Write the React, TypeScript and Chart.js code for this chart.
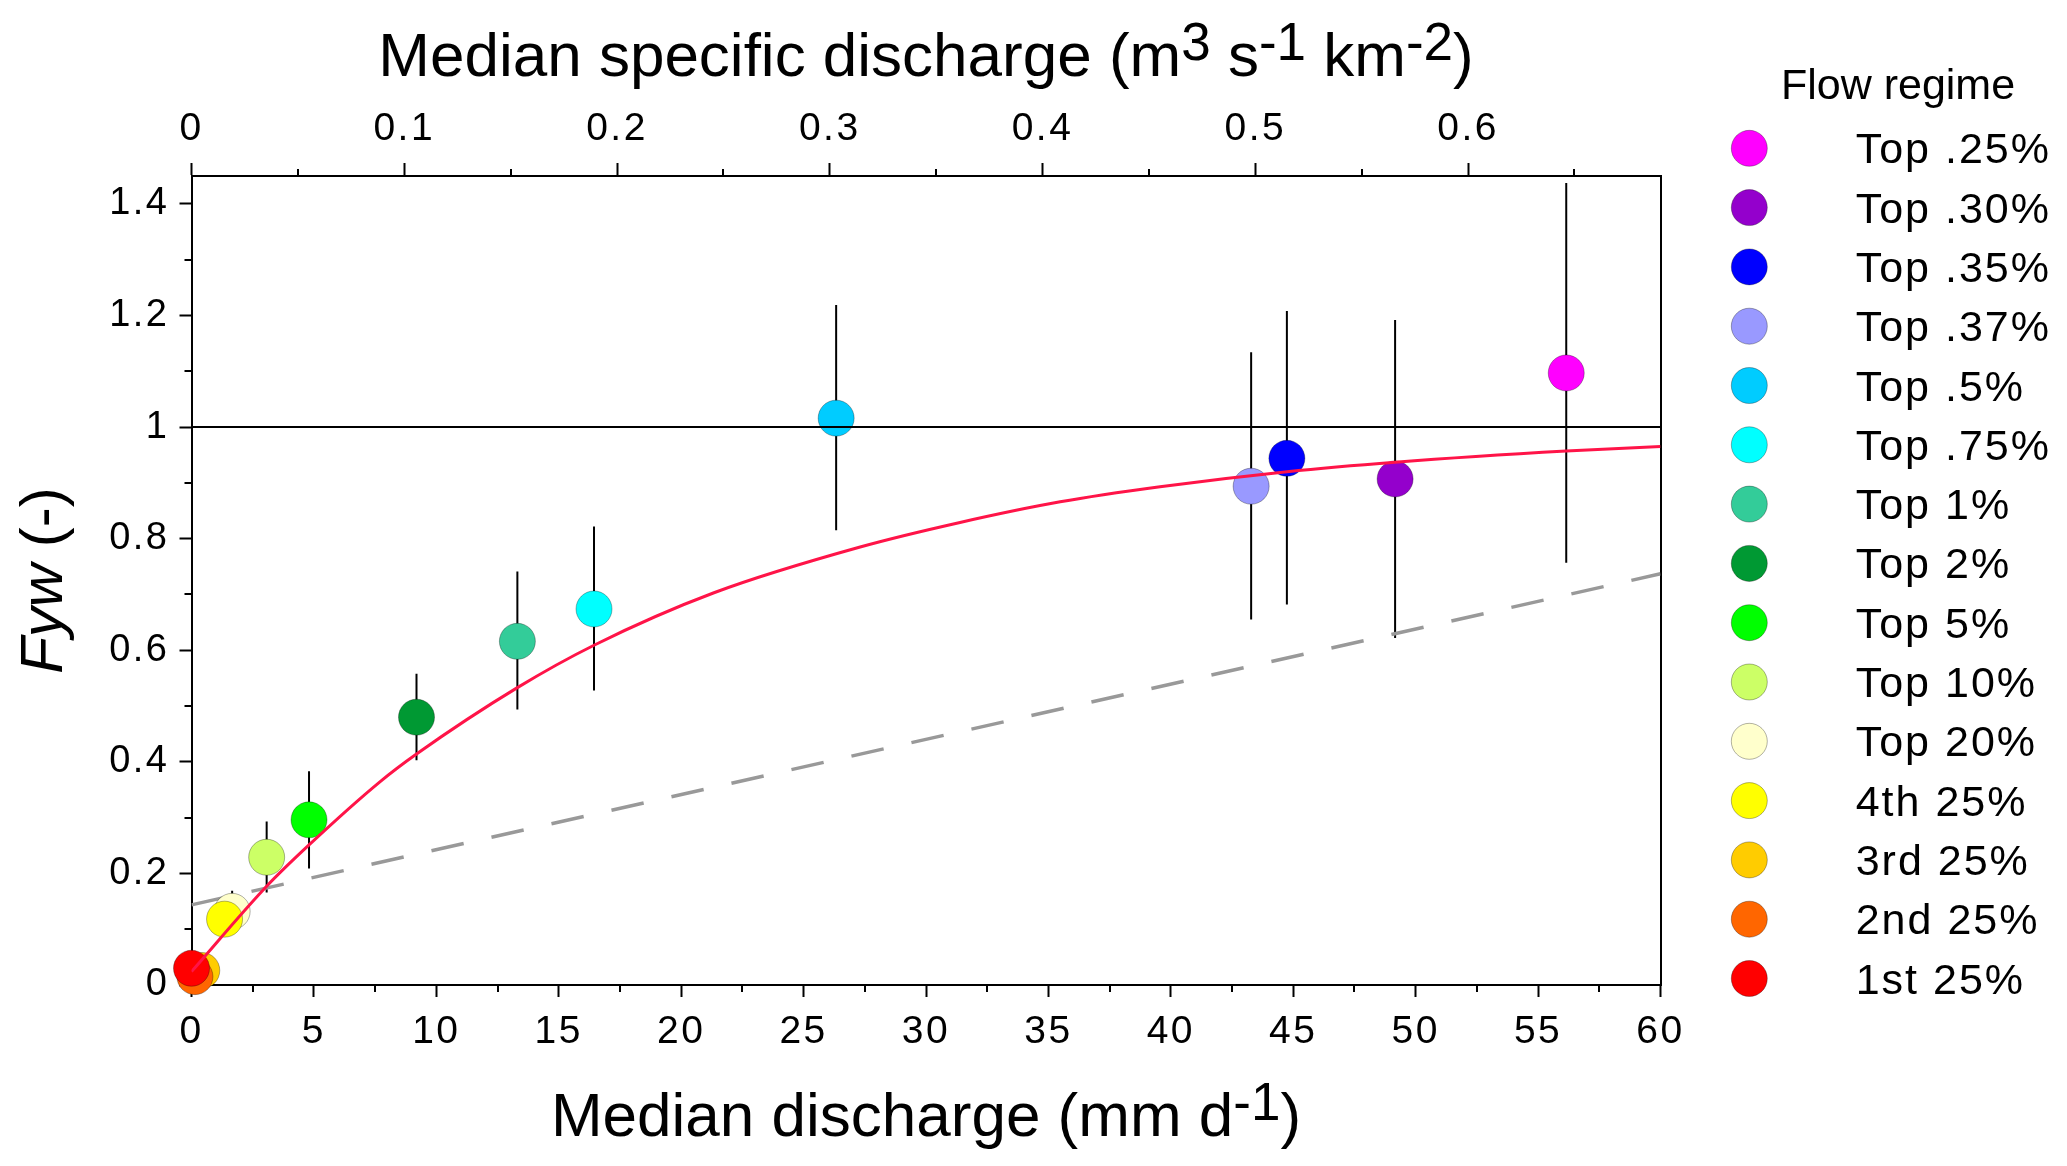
import React, { useEffect, useRef } from "react";
import { Chart, registerables } from "chart.js";

Chart.register(...registerables);

// ---------------- data ----------------
const regimes = [
  "Top .25%", "Top .30%", "Top .35%", "Top .37%", "Top .5%", "Top .75%", "Top 1%",
  "Top 2%", "Top 5%", "Top 10%", "Top 20%", "4th 25%", "3rd 25%", "2nd 25%", "1st 25%",
];
const regimeColors = [
  "#FF00FF", "#9400CC", "#0000FF", "#9999FF", "#00CCFF", "#00FFFF", "#33CC99",
  "#009933", "#00FF00", "#CCFF66", "#FFFFCC", "#FFFF00", "#FFCC00", "#FF6600", "#FF0000",
];
const medianDischarge = [56.15, 49.16, 44.74, 43.28, 26.33, 16.44, 13.31, 9.19, 4.8, 3.07, 1.66, 1.35, 0.42, 0.14, 0.0];
const fywValues = [1.097, 0.907, 0.944, 0.894, 1.016, 0.674, 0.616, 0.48, 0.296, 0.229, 0.132, 0.118, 0.026, 0.015, 0.03];
const fywLower = [0.757, 0.622, 0.682, 0.655, 0.815, 0.528, 0.494, 0.403, 0.209, 0.166, 0.1, null, null, null, null];
const fywUpper = [1.4375, 1.192, 1.208, 1.134, 1.219, 0.822, 0.741, 0.558, 0.383, 0.293, 0.169, null, null, null, null];

const fitX = [0, 3.07, 4.8, 7.72, 9.19, 13.31, 16.44, 21.34, 27.31, 31.39, 35.48, 39.56, 44.74, 49.16, 56.15, 60];
const fitY = [0.024, 0.177, 0.251, 0.365, 0.414, 0.533, 0.609, 0.703, 0.785, 0.829, 0.866, 0.893, 0.92, 0.937, 0.957, 0.965];

const linearX = [0, 60];
const linearY = [0.1436, 0.737];

const unityX = [0, 60];
const unityY = [1, 1];

const xTicks = [0, 5, 10, 15, 20, 25, 30, 35, 40, 45, 50, 55, 60];
const xTickLabels = ["0", "5", "10", "15", "20", "25", "30", "35", "40", "45", "50", "55", "60"];
const xMinorTicks = [2.5, 7.5, 12.5, 17.5, 22.5, 27.5, 32.5, 37.5, 42.5, 47.5, 52.5, 57.5];
const x2Ticks = [0, 0.1, 0.2, 0.3, 0.4, 0.5, 0.6];
const x2TickLabels = ["0", "0.1", "0.2", "0.3", "0.4", "0.5", "0.6"];
const x2MinorTicks = [0.05, 0.15, 0.25, 0.35, 0.45, 0.55, 0.65];
const yTicks = [0, 0.2, 0.4, 0.6, 0.8, 1, 1.2, 1.4];
const yTickLabels = ["0", "0.2", "0.4", "0.6", "0.8", "1", "1.2", "1.4"];
const yMinorTicks = [0.1, 0.3, 0.5, 0.7, 0.9, 1.1, 1.3];

const mmPerSpecific = 86.9; // mm d-1 per m3 s-1 km-2
const xMax = 60;
const yMax = 1.45;

const topTitleRuns = [
  { t: "Median specific discharge (m", sup: false },
  { t: "3", sup: true },
  { t: " s", sup: false },
  { t: "-1", sup: true },
  { t: " km", sup: false },
  { t: "-2", sup: true },
  { t: ")", sup: false },
];
const bottomTitleRuns = [
  { t: "Median discharge (mm d", sup: false },
  { t: "-1", sup: true },
  { t: ")", sup: false },
];
const yTitleRuns = [
  { t: "Fyw", italic: true },
  { t: " (-)", italic: false },
];
const legendTitle = "Flow regime";

// ---------------- styling ----------------
const FAMILY = "'Liberation Sans', Arial, Helvetica, sans-serif";
const W = 2067;
const H = 1166;

function drawRuns(ctx: CanvasRenderingContext2D, runs: any[], cx: number, baseline: number, size: number, supSize: number, rise: number) {
  const widths = runs.map((r) => {
    ctx.font = `${r.sup ? supSize : size}px ${FAMILY}`;
    return ctx.measureText(r.t).width;
  });
  const total = widths.reduce((a, b) => a + b, 0);
  let x = cx - total / 2;
  ctx.textAlign = "left";
  ctx.textBaseline = "alphabetic";
  runs.forEach((r, i) => {
    ctx.font = `${r.sup ? supSize : size}px ${FAMILY}`;
    ctx.fillText(r.t, x, r.sup ? baseline - rise : baseline);
    x += widths[i];
  });
}

const spacingPlugin = {
  id: "tickSpacing",
  beforeDraw(chart: any) {
    const ctx: any = chart.ctx;
    if ("letterSpacing" in ctx) ctx.letterSpacing = "2.5px";
  },
};

const decorPlugin = {
  id: "decor",
  afterDraw(chart: any) {
    const ctx: any = chart.ctx;
    const area = chart.chartArea;
    ctx.save();
    if ("letterSpacing" in ctx) ctx.letterSpacing = "0px";
    ctx.fillStyle = "#000";
    ctx.strokeStyle = "#000";
    ctx.lineWidth = 2;

    const minor = (id: string, values: number[], len: number) => {
      const s = chart.scales[id];
      values.forEach((v) => {
        const p = Math.round(s.getPixelForValue(v));
        ctx.beginPath();
        if (s.position === "bottom") {
          ctx.moveTo(p, area.bottom);
          ctx.lineTo(p, area.bottom + len);
        } else if (s.position === "top") {
          ctx.moveTo(p, area.top);
          ctx.lineTo(p, area.top - len);
        } else {
          ctx.moveTo(area.left, p);
          ctx.lineTo(area.left - len, p);
        }
        ctx.stroke();
      });
    };
    minor("x", xMinorTicks, 7);
    minor("x2", x2MinorTicks, 7);
    minor("y", yMinorTicks, 7);

    const cx = (area.left + area.right) / 2;
    drawRuns(ctx, topTitleRuns, cx, 76, 62, 53, 16);
    drawRuns(ctx, bottomTitleRuns, cx, 1136, 62, 53, 16);

    // y title (rotated)
    const cy = (area.top + area.bottom) / 2;
    ctx.save();
    ctx.translate(62, cy);
    ctx.rotate(-Math.PI / 2);
    const ySize = 60;
    const yw = yTitleRuns.map((r) => {
      ctx.font = `${r.italic ? "italic " : ""}${ySize}px ${FAMILY}`;
      return ctx.measureText(r.t).width;
    });
    let xx = -yw.reduce((a, b) => a + b, 0) / 2;
    ctx.textAlign = "left";
    ctx.textBaseline = "alphabetic";
    yTitleRuns.forEach((r, i) => {
      ctx.font = `${r.italic ? "italic " : ""}${ySize}px ${FAMILY}`;
      ctx.fillText(r.t, xx, 0);
      xx += yw[i];
    });
    ctx.restore();

    // legend
    ctx.font = `43px ${FAMILY}`;
    ctx.textAlign = "center";
    ctx.textBaseline = "alphabetic";
    ctx.fillStyle = "#000";
    ctx.fillText(legendTitle, 1898, 99);
    ctx.textAlign = "left";
    if ("letterSpacing" in ctx) ctx.letterSpacing = "2px";
    regimes.forEach((label, i) => {
      const y = 148.3 + i * 59.3;
      ctx.beginPath();
      ctx.arc(1749.3, y, 18, 0, Math.PI * 2);
      ctx.fillStyle = regimeColors[i];
      ctx.fill();
      ctx.lineWidth = 1;
      ctx.strokeStyle = "rgba(0,0,0,0.3)";
      ctx.stroke();
      ctx.fillStyle = "#000";
      ctx.fillText(label, 1855.7, y + 15);
    });
    if ("letterSpacing" in ctx) ctx.letterSpacing = "0px";
    ctx.restore();
  },
};

function fixedTicks(values: number[]) {
  return (scale: any) => {
    scale.ticks = values.map((v) => ({ value: v }));
  };
}

export default function App() {
  const canvasRef = useRef<HTMLCanvasElement | null>(null);

  useEffect(() => {
    const canvas = canvasRef.current;
    if (!canvas) return;
    document.body.style.margin = "0";

    const datasets: any[] = [];

    // reference line F = 1
    datasets.push({
      type: "line",
      label: "unity",
      data: unityX.map((x, i) => ({ x, y: unityY[i] })),
      borderColor: "#000",
      borderWidth: 2,
      pointRadius: 0,
      fill: false,
      order: 0,
      xAxisID: "x",
      yAxisID: "y",
    });
    // fitted curve
    datasets.push({
      type: "line",
      label: "fit",
      data: fitX.map((x, i) => ({ x, y: fitY[i] })),
      borderColor: "#FF1448",
      borderWidth: 3,
      pointRadius: 0,
      fill: false,
      cubicInterpolationMode: "monotone",
      order: 1,
      xAxisID: "x",
      yAxisID: "y",
    });
    // points
    regimes.forEach((label, i) => {
      datasets.push({
        type: "scatter",
        label,
        data: [{ x: medianDischarge[i], y: fywValues[i] }],
        backgroundColor: regimeColors[i],
        borderColor: "rgba(0,0,0,0.3)",
        borderWidth: 1,
        pointRadius: 18,
        pointHoverRadius: 18,
        clip: false,
        order: 2 + (regimes.length - 1 - i),
        xAxisID: "x",
        yAxisID: "y",
      });
    });
    // dashed linear line
    datasets.push({
      type: "line",
      label: "linear",
      data: linearX.map((x, i) => ({ x, y: linearY[i] })),
      borderColor: "#999999",
      borderWidth: 3.5,
      borderDash: [33, 28.5],
      pointRadius: 0,
      fill: false,
      order: 40,
      xAxisID: "x",
      yAxisID: "y",
    });
    // error bars
    regimes.forEach((label, i) => {
      if (fywLower[i] === null || fywUpper[i] === null) return;
      datasets.push({
        type: "line",
        label: label + " range",
        data: [
          { x: medianDischarge[i], y: fywLower[i] },
          { x: medianDischarge[i], y: fywUpper[i] },
        ],
        borderColor: "#000",
        borderWidth: 2,
        pointRadius: 0,
        fill: false,
        order: 50 + i,
        xAxisID: "x",
        yAxisID: "y",
      });
    });

    const tickFont = { family: FAMILY, size: 39 };
    const chart = new Chart(canvas, {
      type: "scatter",
      data: { datasets },
      plugins: [spacingPlugin, decorPlugin],
      options: {
        animation: false,
        responsive: true,
        maintainAspectRatio: false,
        devicePixelRatio: 1,
        events: [],
        layout: { padding: { left: 0, right: 406.5, top: 0, bottom: 0 } },
        plugins: { legend: { display: false }, tooltip: { enabled: false }, title: { display: false } },
        scales: {
          x: {
            type: "linear",
            position: "bottom",
            min: 0,
            max: xMax,
            afterBuildTicks: fixedTicks(xTicks),
            afterFit: (s: any) => { s.height = 181; },
            ticks: {
              callback: (v: any) => xTickLabels[xTicks.indexOf(v)] ?? "",
              font: tickFont,
              color: "#000",
              padding: 12,
              autoSkip: false,
              maxRotation: 0,
              includeBounds: false,
            },
            grid: { drawOnChartArea: false, drawTicks: true, tickLength: 12, tickWidth: 2, tickColor: "#000" },
            border: { display: true, color: "#000", width: 2 },
          },
          x2: {
            type: "linear",
            position: "top",
            min: 0,
            max: xMax / mmPerSpecific,
            afterBuildTicks: fixedTicks(x2Ticks),
            afterFit: (s: any) => { s.height = 176; },
            ticks: {
              callback: (v: any) => x2TickLabels[x2Ticks.indexOf(v)] ?? "",
              font: tickFont,
              color: "#000",
              padding: 10,
              autoSkip: false,
              maxRotation: 0,
              includeBounds: false,
            },
            grid: { drawOnChartArea: false, drawTicks: true, tickLength: 13, tickWidth: 2, tickColor: "#000" },
            border: { display: true, color: "#000", width: 2 },
          },
          y: {
            type: "linear",
            position: "left",
            min: 0,
            max: yMax,
            afterBuildTicks: fixedTicks(yTicks),
            afterFit: (s: any) => { s.width = 191.5; },
            ticks: {
              callback: (v: any) => yTickLabels[yTicks.indexOf(v)] ?? "",
              font: { family: FAMILY, size: 38 },
              color: "#000",
              padding: 10,
              autoSkip: false,
              includeBounds: false,
            },
            grid: { drawOnChartArea: false, drawTicks: true, tickLength: 12, tickWidth: 2, tickColor: "#000" },
            border: { display: true, color: "#000", width: 2 },
          },
          y2: {
            type: "linear",
            position: "right",
            min: 0,
            max: yMax,
            afterFit: (s: any) => { s.width = 0; },
            ticks: { display: false },
            grid: { drawOnChartArea: false, drawTicks: false },
            border: { display: true, color: "#000", width: 2 },
          },
        },
      } as any,
    });

    return () => {
      chart.destroy();
    };
  }, []);

  return (
    <div style={{ position: "fixed", left: 0, top: 0, width: `${W}px`, height: `${H}px`, background: "#fff" }}>
      <canvas ref={canvasRef} />
    </div>
  );
}
